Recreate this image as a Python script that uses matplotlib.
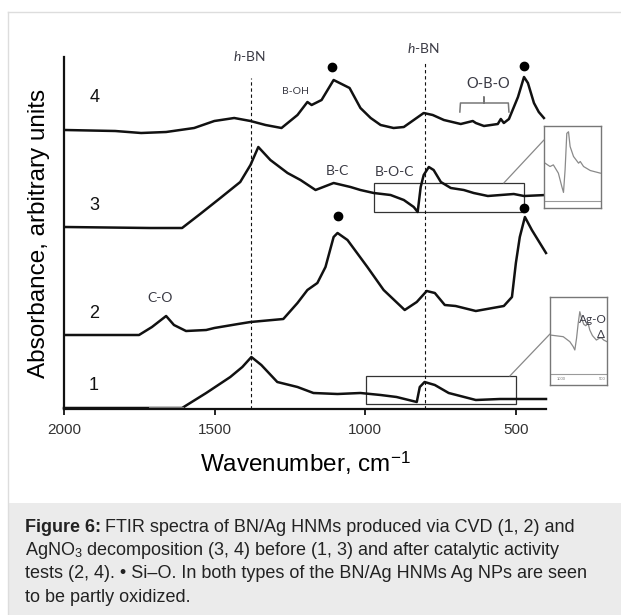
import matplotlib
matplotlib.use("Agg")
import matplotlib.pyplot as plt
from matplotlib.patches import Rectangle, ConnectionPatch
from matplotlib.lines import Line2D

plt.rcParams["font.family"] = ["Liberation Sans", "DejaVu Sans"]
plt.rcParams["mathtext.fontset"] = "custom"
plt.rcParams["mathtext.rm"] = "Liberation Sans"
plt.rcParams["mathtext.it"] = "Lato:italic"

# spectra, wavenumber (cm-1) vs absorbance (arbitrary units, curves offset)
wn4 = [1997, 1830, 1744, 1661, 1568, 1501, 1435, 1381, 1331, 1278, 1225, 1192, 1178,
       1145, 1105, 1052, 1016, 982, 949, 906, 872, 839, 806, 776, 739, 683, 643, 633,
       606, 560, 550, 540, 523, 493, 473, 460, 440, 424, 407]
a4 = [279, 278, 276, 277, 281, 288, 291, 288, 284, 281, 294, 307, 304,
      309, 329, 321, 301, 291, 284, 281, 282, 289, 296, 294, 289, 285, 288, 286,
      283, 285, 290, 286, 290, 312, 332, 326, 306, 297, 291]

wn3 = [1997, 1714, 1608, 1548, 1481, 1415, 1381, 1355, 1315, 1258, 1215, 1165, 1105,
       1049, 1016, 972, 916, 872, 839, 826, 816, 806, 789, 773, 749, 716, 673, 640,
       593, 550, 507, 473, 400]
a3 = [182, 181, 181, 195, 211, 227, 244, 262, 249, 236, 229, 219, 226,
      222, 219, 216, 214, 209, 202, 197, 222, 234, 242, 239, 227, 221, 219, 216,
      213, 214, 215, 213, 214]

wn2 = [1997, 1751, 1708, 1661, 1635, 1595, 1528, 1501, 1422, 1381, 1272, 1225, 1192,
       1159, 1132, 1105, 1092, 1059, 993, 939, 869, 829, 796, 769, 736, 700, 633, 540,
       513, 500, 487, 470, 447, 400]
a2 = [74, 74, 82, 93, 84, 78, 79, 81, 85, 87, 90, 106, 119,
      126, 142, 172, 176, 169, 142, 119, 99, 107, 118, 116, 104, 103, 98, 103,
      112, 146, 172, 192, 179, 156]

wn1 = [2000, 1714, 1608, 1528, 1448, 1408, 1378, 1345, 1292, 1225, 1172, 1092, 1016,
       949, 896, 829, 819, 803, 769, 723, 633, 553, 400]
a1 = [1, 1, 1, 16, 32, 42, 52, 44, 27, 22, 16, 15, 16,
      14, 12, 7, 22, 27, 24, 16, 9, 10, 10]

# Si-O markers
dot_wn = [1109, 473, 1089, 473]
dot_a = [342, 343, 193, 201]

# insets (zoomed 1000-500 region)
ins3_wn = [991, 947, 918, 874, 844, 829, 815, 800, 785, 771, 741, 697, 682, 653, 594, 506]
ins3_a = [54.7, 50.6, 52.6, 42.5, 26.3, 19, 46.6, 91, 93, 75, 62.8, 54.7, 56.7, 50.6, 45.7, 42.5]
ins1_wn = [1142, 1081, 980, 899, 858, 838, 817, 797, 777, 756, 728, 704, 675, 655,
           622, 574, 541, 513, 485, 444]
ins1_a = [56.8, 56.1, 54.9, 49.2, 43.6, 39.8, 53, 70, 83.3, 75.8, 68.9, 67.4, 70, 62.5,
          56.1, 51.1, 53, 53.8, 51.1, 49.2]

hbn_wn = [1378, 803]
xticks = [2000, 1500, 1000, 500]

INK = "#111111"
NOTE = "#3a3a44"
W, H = 621, 615

fig = plt.figure(figsize=(W / 100, H / 100), dpi=100)
fig.patch.set_facecolor("white")

# page frame + caption panel
fig.add_artist(Line2D([8 / W, 8 / W], [0, 1 - 12 / H], color="#dddddd", lw=1))
fig.add_artist(Line2D([8 / W, 1], [1 - 12 / H, 1 - 12 / H], color="#dddddd", lw=1))
fig.add_artist(Rectangle((8 / W, 0), 1, 112 / H, transform=fig.transFigure,
                         facecolor="#ebebeb", edgecolor="none"))

ax = fig.add_axes([64 / W, 206 / H, 482 / W, 352 / H])
ax.set_xlim(2000, 400)
ax.set_ylim(0, 352)
for s in ("top", "right"):
    ax.spines[s].set_visible(False)
for s in ("left", "bottom"):
    ax.spines[s].set_linewidth(1.6)
    ax.spines[s].set_color(INK)
ax.set_yticks([])
ax.set_xticks(xticks)
ax.tick_params(axis="x", direction="out", length=4, width=1.2, labelsize=11,
               labelcolor="#333333", pad=6)
ax.set_xlabel("Wavenumber, cm$^{-1}$", fontsize=17.5, labelpad=9)
ax.set_ylabel("Absorbance, arbitrary units", fontsize=17.5, labelpad=10)

for wn, a in ((wn4, a4), (wn3, a3), (wn2, a2), (wn1, a1)):
    ax.plot(wn, a, color=INK, lw=1.8, solid_joinstyle="round", clip_on=False)
ax.plot(wn1[1:3], a1[1:3], color="#888888", lw=2.2)
ax.plot(dot_wn, dot_a, "o", color="black", ms=6, clip_on=False)

ax.vlines(hbn_wn[0], 0, 331, colors=INK, linestyles=(0, (3, 2.5)), lw=0.8)
ax.vlines(hbn_wn[1], 0, 347, colors=INK, linestyles=(0, (3, 2.5)), lw=0.8)

for lab, y in (("4", 311), ("3", 204), ("2", 96), ("1", 24)):
    ax.text(1900, y, lab, fontsize=13, ha="center", va="center", color=INK)

note = dict(family=["Lato", "DejaVu Sans"], color=NOTE, ha="center", va="center")
ax.text(1385, 353, "$h$-BN", fontsize=10, clip_on=False, **note)
ax.text(806, 361, "$h$-BN", fontsize=10, clip_on=False, **note)
ax.text(1232, 317, "B-OH", fontsize=7.5, **note)
ax.text(593, 325, "O-B-O", fontsize=10.5, **note)
ax.text(1092, 238, "B-C", fontsize=10, **note)
ax.text(902, 237, "B-O-C", fontsize=10, **note)
ax.text(1681, 111, "C-O", fontsize=10, **note)
# brace over the O-B-O bands
ax.plot([686, 684, 606, 606, 606, 525, 523], [297, 306, 306, 312, 306, 306, 297],
        color="#777777", lw=1.1)

# boxes marking the zoomed regions
ax.add_patch(Rectangle((972, 197), -499, 29, fill=False, ec="#333333", lw=0.9))
ax.add_patch(Rectangle((996, 5), -496, 28, fill=False, ec="#333333", lw=0.9, clip_on=False))


def inset(rect, wn, a, xlim, ylim, axis_y):
    ia = fig.add_axes(rect)
    ia.plot(wn, a, color="#8a8a8a", lw=0.9)
    ia.axhline(axis_y, color="#9a9a9a", lw=0.8)
    ia.set_xlim(*xlim)
    ia.set_ylim(*ylim)
    ia.set_xticks([])
    ia.set_yticks([])
    for s in ia.spines.values():
        s.set_color("#777777")
        s.set_linewidth(1.0)
    return ia


ia3 = inset([544 / W, 407 / H, 57 / W, 82 / H], ins3_wn, ins3_a, (1000, 500), (0, 100), 8)
ia1 = inset([550 / W, 230 / H, 57 / W, 88 / H], ins1_wn, ins1_a, (1142, 444), (0, 100), 12.5)
ia1.text(616, 74, "Ag-O", fontsize=8.5, **note)
ia1.text(517, 57, "Δ", fontsize=8.5, **note)
for t, x in (("1000", 1000), ("500", 500)):
    ia1.text(x, 7, t, fontsize=3, color="#777777", ha="center", va="center")

for xy, ia, fy in (((540, 226), ia3, 0.83), ((520, 33), ia1, 0.58)):
    con = ConnectionPatch(xyA=xy, coordsA=ax.transData, xyB=(0, fy),
                          coordsB=ia.transAxes, color="#888888", lw=0.9)
    fig.add_artist(con)

# caption
cap_size = 13
x0 = 25 / W
y0 = 1 - 527 / H
bold = fig.text(x0, y0, "Figure 6:", fontsize=cap_size, weight="bold", color="#222222",
                ha="left", va="center")
bb = bold.get_window_extent(renderer=fig.canvas.get_renderer())
fig.text(x0 + (bb.width + 4) / W, y0, "FTIR spectra of BN/Ag HNMs produced via CVD (1, 2) and",
         fontsize=cap_size, color="#222222", ha="left", va="center")
rest = [
    r"AgNO$_3$ decomposition (3, 4) before (1, 3) and after catalytic activity",
    "tests (2, 4). \u2022 Si\u2013O. In both types of the BN/Ag HNMs Ag NPs are seen",
    "to be partly oxidized.",
]
for i, line in enumerate(rest, start=1):
    fig.text(x0, 1 - (527 + 23.5 * i) / H, line, fontsize=cap_size, color="#222222",
             ha="left", va="center")

fig.savefig("out.png", dpi=100, facecolor=fig.get_facecolor())
